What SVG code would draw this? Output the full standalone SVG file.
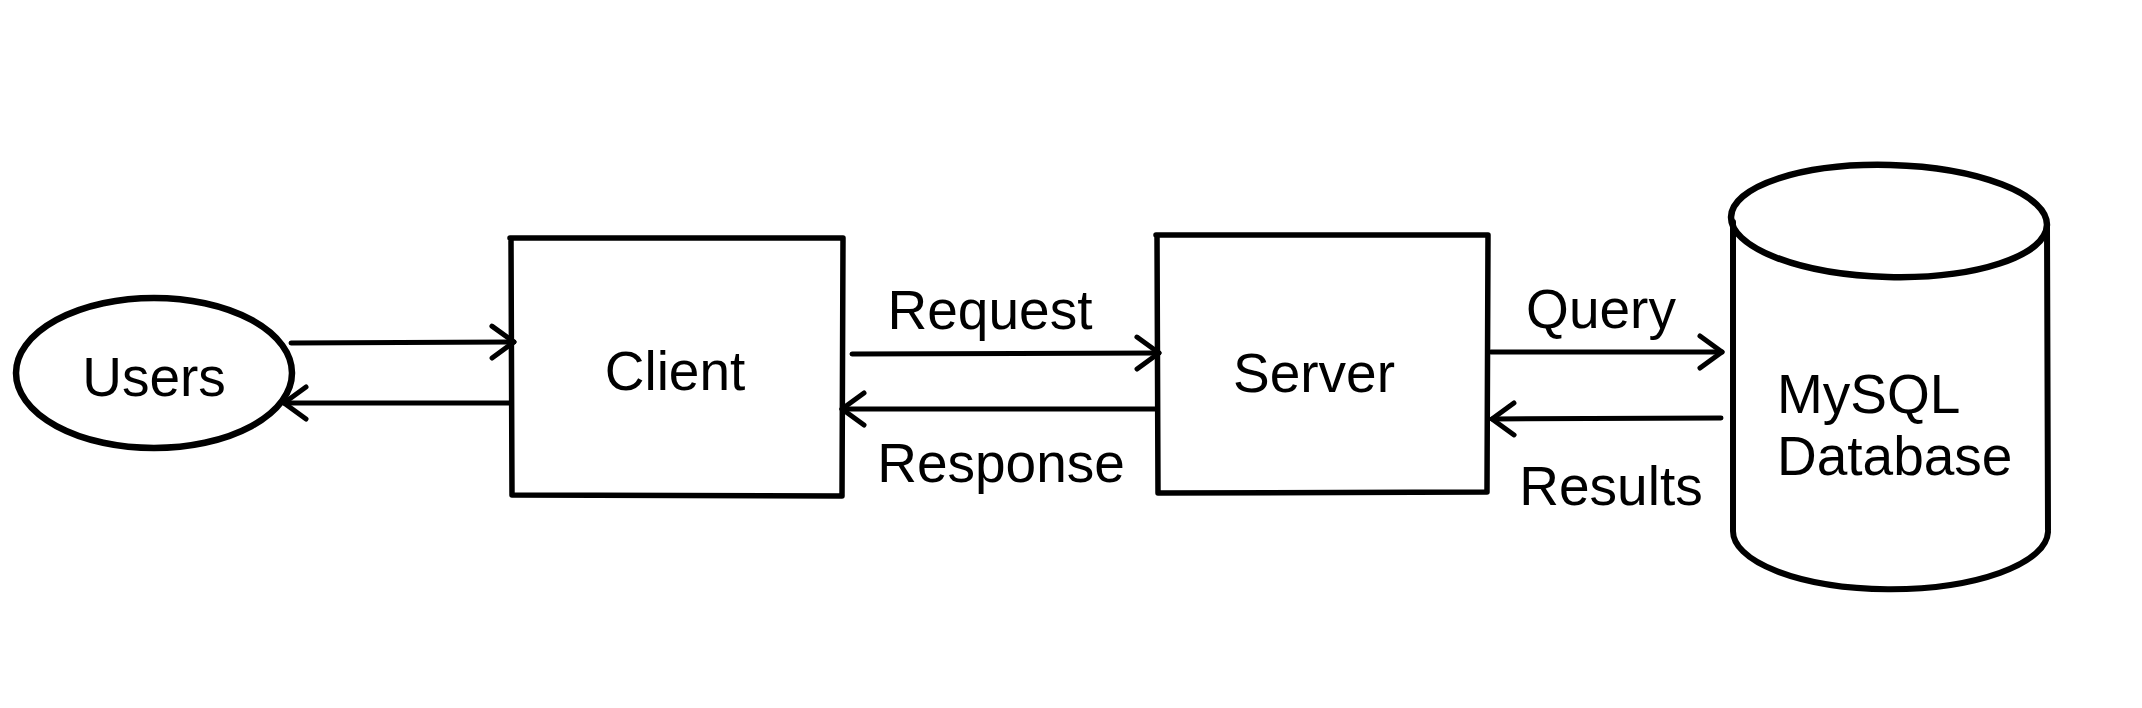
<svg xmlns="http://www.w3.org/2000/svg" width="2142" height="708" viewBox="0 0 2142 708">
<style>
.s{fill:none;stroke:#000;stroke-linecap:round;stroke-linejoin:round}
.n{stroke-width:5.5}
.c{stroke-width:5}
.t{font-family:"Liberation Sans",Arial,sans-serif;font-size:55px;fill:#000}
</style>
<defs>
<marker id="arr" markerUnits="userSpaceOnUse" markerWidth="44" markerHeight="44" viewBox="-32 -22 44 44" refX="0" refY="0" orient="auto">
<path d="M-22,-16 L0,0 L-22,16" fill="none" stroke="#000" stroke-width="5" stroke-linecap="round" stroke-linejoin="round"/>
</marker>
</defs>
<rect width="2142" height="708" fill="#fff"/>
<g id="users">
<ellipse class="s" stroke-width="6.5" cx="154" cy="373" rx="138" ry="75"/>
<text class="t" x="154" y="396" text-anchor="middle">Users</text>
</g>
<g id="client">
<path class="s n" d="M510,238 L843,238 M843,238 L842,496 M842,496 L512,495 M512,495 L511,238"/>
<text class="t" x="675" y="390" text-anchor="middle">Client</text>
</g>
<g id="server">
<path class="s n" d="M1156,235 L1488,235 M1488,235 L1487,492 M1487,492 L1158,493 M1158,493 L1157,235"/>
<text class="t" x="1314" y="392" text-anchor="middle">Server</text>
</g>
<g id="database">
<ellipse class="s" stroke-width="6.5" cx="1889" cy="221" rx="158" ry="56" transform="rotate(1.5 1889 221)"/>
<path class="s" stroke-width="6" d="M1733,222 L1733,530 M2047,226 L2048,530 M1733,530 A157 58 0 0 0 2048,532"/>
<text class="t" x="1777" y="413">MySQL</text>
<text class="t" x="1777" y="475">Database</text>
</g>
<g id="connectors">
<path class="s c" d="M291,343 L514,342" marker-end="url(#arr)"/>
<path class="s c" d="M509,403 L284,403" marker-end="url(#arr)"/>
<path class="s c" d="M852,354 L1159,353" marker-end="url(#arr)"/>
<path class="s c" d="M1155,409 L842,409" marker-end="url(#arr)"/>
<path class="s c" d="M1491,352 L1722,352" marker-end="url(#arr)"/>
<path class="s c" d="M1721,418 L1492,419" marker-end="url(#arr)"/>
<text class="t" x="990" y="329" text-anchor="middle">Request</text>
<text class="t" x="1001" y="482" text-anchor="middle">Response</text>
<text class="t" x="1601" y="328" text-anchor="middle">Query</text>
<text class="t" x="1611" y="505" text-anchor="middle">Results</text>
</g>
</svg>
